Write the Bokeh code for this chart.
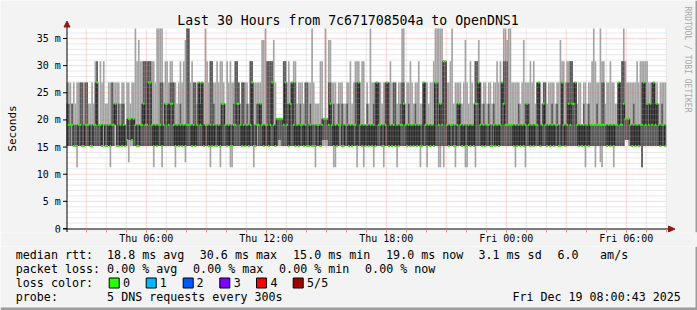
import math
from bokeh.plotting import figure
from bokeh.layouts import column
from bokeh.models import Range1d, FixedTicker, Label
from bokeh.embed import file_html
from bokeh.resources import INLINE

# ---------------- data ----------------
title_text = "Last 30 Hours from 7c671708504a to OpenDNS1"
# ping round-trip levels (ms) used by the codes below
level_ms = {"0": 11.3, "c": 12.2, "1": 15.2, "a": 16.3, "2": 19.1, "b": 20.2,
            "3": 23.0, "4": 26.9, "5": 30.8, "6": 34.7, "7": 38.6}
# one entry per 5-minute step: 5 sorted pings (min, 2nd, median, 4th, max)
step_codes = """
11234 11234 11224 12233 11124 11123 01124 11224 11244 11144
11124 11244 11244 11223 11123 11124 11223 11245 11455 11222
11225 11124 22225 11123 11123 11224 01124 11244 11234 22334
11124 11134 11223 11134 11234 11122 1aab4 cabb4 1abb3 1aab4
11bb4 11227 11125 11126 11225 11235 11355 11255 11254 11455
11455 11225 01125 11224 11127 11227 11247 01147 11224 11335
11335 11234 11345 11345 11244 01124 11223 11124 11235 11124
11225 c1126 11277 11277 11224 11125 11244 11144 11223 11444
11234 11444 11124 11227 11225 11124 01255 11155 11234 11124
11125 11224 01125 11335 11334 11223 11125 11224 01125 01124
11234 11255 11355 11344 11223 11144 11244 11124 11234 11123
11255 11455 01124 11124 12234 11234 11334 11226 11126 11227
11255 11155 11255 11455 11226 11124 11bbb 1abbb 1abbb 11bbb
11255 11455 11234 11135 11334 11444 11245 11145 11223 11124
11234 11224 11123 11244 11144 11124 11234 11127 11124 01123
11223 11223 11125 1a2b5 1abbb 1abb7 1abbb 11246 11346 11224
01134 01224 11123 11234 12224 11134 11123 11223 11234 11124
11225 11123 11224 11245 01145 11445 11224 11125 01225 11122
11234 11123 11227 11124 01234 11144 11444 11244 11224 11123
01124 11244 11444 11144 11225 11124 11244 11144 01223 11124
11234 11247 11347 11223 11124 11234 11125 11224 11123 11234
11124 11225 01123 11123 11444 11244 01124 11223 11124 11224
11125 11447 11447 01227 01337 11227 01555 11555 11224 11124
11225 11227 11123 01124 11234 11334 11234 11123 11224 01126
01124 11223 11125 11224 11123 01355 11355 11446 11244 11123
11234 11124 11223 11234 11124 11123 12234 11124 11225 11124
11225 11444 11357 11257 11256 11227 11227 11224 11124 01224
11124 11234 11123 11224 11126 01234 11334 11234 11125 11224
11125 11223 11244 11444 11124 11223 11344 11244 11123 11224
11124 11234 11124 11223 11234 11124 11126 11445 11225 11124
11245 11345 11255 11355 11344 11444 11223 11124 11224 11122
11234 01124 11223 11134 11224 11225 11227 01225 11234 11224
c1227 01245 11245 11223 11124 11224 11125 11224 01124 11223
11223 11444 11244 11255 11357 aabb5 aabb4 1abb4 11224 11124
11234 11124 11225 11124 11225 00245 11445 11245 11335 11224
11334 11244 11444 11234 11334 11223 11124 11234 11224 11124
""".split()

ping_min = [level_ms[c[0]] for c in step_codes]
ping_lo = [level_ms[c[1]] for c in step_codes]
median_rtt = [level_ms[c[2]] for c in step_codes]
ping_hi = [level_ms[c[3]] for c in step_codes]
ping_max = [level_ms[c[4]] for c in step_codes]

y_tick_values = [0, 5, 10, 15, 20, 25, 30, 35]
y_tick_labels = ["0", "5 m", "10 m", "15 m", "20 m", "25 m", "30 m", "35 m"]
x_tick_hours = [4, 10, 16, 22, 28]          # hours after 02:00
x_tick_labels = ["Thu 06:00", "Thu 12:00", "Thu 18:00", "Fri 00:00", "Fri 06:00"]

legend_median = ["median rtt:", "18.8 ms avg", "30.6 ms max", "15.0 ms min",
                 "19.0 ms now", "3.1 ms sd", "6.0", "am/s"]
legend_loss = ["packet loss:", "0.00 % avg", "0.00 % max", "0.00 % min", "0.00 % now"]
loss_labels = ["0", "1", "2", "3", "4", "5/5"]
loss_colors = ["#26ff00", "#00b8ff", "#0059ff", "#7e00ff", "#ff0000", "#a10000"]
probe_text = "5 DNS requests every 300s"
stamp_text = "Fri Dec 19 08:00:43 2025"

# ---------------- layout ----------------
W = 697
H1, H2 = 246, 64                # graph part, legend part
X0, PXH = 66.0, 20.0            # pixel of graph start, pixels per hour
Y0, YMAX = 228.0, 36.84         # pixel of 0 ms, top of graph (ms)
PXM = 200.0 / YMAX
FB = 232                        # frame bottom of the graph part
SPAN_H = 30.0
OFF_H = 43 / 3600.0             # graph starts at 02:00:43
BG = "#f3f3f3"
MONO = "DejaVu Sans Mono"


def dx(px):
    return (px - X0) / PXH


def dy(py):
    return (Y0 - py) / PXM


p = figure(width=W, height=H1, output_backend="svg", toolbar_location=None,
           x_range=Range1d(dx(0), dx(W)), y_range=Range1d(dy(FB), dy(0)),
           y_axis_location=None,
           min_border_left=0, min_border_right=0,
           min_border_top=0, min_border_bottom=H1 - FB)
p.background_fill_color = BG
p.border_fill_color = BG
p.outline_line_color = None
p.xgrid.visible = False
p.ygrid.visible = False

xa = p.xaxis[0]
hour_marks = [k - OFF_H for k in range(1, 31)]
xa.ticker = FixedTicker(ticks=[h - OFF_H for h in x_tick_hours], minor_ticks=hour_marks)
xa.major_label_overrides = {h - OFF_H: s for h, s in zip(x_tick_hours, x_tick_labels)}
xa.axis_line_color = None
xa.major_tick_in = 3
xa.major_tick_out = 0
xa.minor_tick_in = 3
xa.minor_tick_out = 0
xa.major_tick_line_color = "#e89090"
xa.minor_tick_line_color = "#e89090"
xa.major_label_standoff = 0
xa.major_label_text_font = MONO
xa.major_label_text_font_size = "10px"
xa.major_label_text_color = "black"

# white graph canvas
p.quad(left=[0], right=[SPAN_H], bottom=[0], top=[YMAX], fill_color="white", line_color=None)

# steps
n = len(step_codes)
step_h = 5 / 60.0
left = [max(0.0, i * step_h - OFF_H) for i in range(n)]
right = [min(SPAN_H, (i + 1) * step_h - OFF_H) for i in range(n)]
clipv = lambda v: min(v, YMAX)

p.quad(left=left, right=right, bottom=ping_min, top=[clipv(v) for v in ping_max],
       fill_color="#a4a4a4", line_color=None)
p.quad(left=left, right=right, bottom=ping_lo, top=[clipv(v) for v in ping_hi],
       fill_color="#585858", line_color=None)
p.step(x=left + [right[-1]], y=median_rtt + [median_rtt[-1]], mode="after",
       line_color="#202020", line_width=1)
sw = 1.0 / PXM
p.quad(left=left, right=right, bottom=[m - sw for m in median_rtt],
       top=[m + sw for m in median_rtt], fill_color=loss_colors[0], line_color=None)

# grid (drawn on top as in rrdtool)
minor_y = [v for v in range(1, 37) if v % 5 != 0]
major_y = [v for v in range(5, 36, 5)]
p.segment(x0=[0] * len(minor_y), x1=[SPAN_H] * len(minor_y), y0=minor_y, y1=minor_y,
          line_color="#a8a8a8", line_alpha=0.5, line_dash="1 1", line_width=1)
minor_x = [h for k, h in zip(range(1, 31), hour_marks) if (k + 2) % 3 != 0]
major_x = [h for k, h in zip(range(1, 31), hour_marks) if (k + 2) % 3 == 0]
p.segment(x0=minor_x, x1=minor_x, y0=[0] * len(minor_x), y1=[YMAX] * len(minor_x),
          line_color="#a8a8a8", line_alpha=0.5, line_dash="1 1", line_width=1)
p.segment(x0=[0] * len(major_y), x1=[SPAN_H] * len(major_y), y0=major_y, y1=major_y,
          line_color="#ff7070", line_alpha=0.55, line_dash="1 1", line_width=1)
p.segment(x0=major_x, x1=major_x, y0=[0] * len(major_x), y1=[YMAX] * len(major_x),
          line_color="#ff7070", line_alpha=0.55, line_dash="1 1", line_width=1)

# y axis: tick marks and labels on the value scale
p.segment(x0=[dx(62.5)] * len(y_tick_values), x1=[dx(66.5)] * len(y_tick_values),
          y0=y_tick_values, y1=y_tick_values, line_color="black", line_width=1)
p.text(x=[dx(60.3)] * len(y_tick_values), y=y_tick_values, text=y_tick_labels,
       text_font={"value": MONO}, text_font_size={"value": "10px"},
       text_align="right", text_baseline="middle", text_color="black")
p.add_layout(Label(x=dx(11.5), y=dy(128), text="Seconds", text_font=MONO,
                   text_font_size="11px", text_align="center", text_baseline="middle",
                   text_color="black", angle=math.pi / 2))

# axis lines and arrows
p.segment(x0=[dx(62.5), dx(66.5)], y0=[dy(228.5), dy(231.5)],
          x1=[dx(669), dx(66.5)], y1=[dy(228.5), dy(25)], line_color="black", line_width=1)
p.patches(xs=[[dx(63.5), dx(69.5), dx(66.5)], [dx(668), dx(668), dx(674.5)]],
          ys=[[dy(26.5), dy(26.5), dy(20.5)], [dy(225.5), dy(231.5), dy(228.5)]],
          fill_color="#8e1b1b", line_color="#8e1b1b")

# right edge shade of the rrdtool canvas
p.quad(left=[dx(695)], right=[dx(W)], bottom=[dy(FB)], top=[dy(0)],
       fill_color="#9c9c9c", line_color=None)

p.add_layout(Label(x=dx(347.5), y=dy(19.5), text=title_text, text_font=MONO,
                   text_font_size="13.2px", text_align="center", text_baseline="middle",
                   text_color="black"))
p.add_layout(Label(x=dx(687), y=dy(59), text="RRDTOOL / TOBI OETIKER", text_font=MONO,
                   text_font_size="8px", text_align="center", text_baseline="middle",
                   text_color="#a8a8a8", angle=-math.pi / 2))

# ---------------- legend part (pixel coordinates of the page) ----------------
q = figure(width=W, height=H2, output_backend="svg", toolbar_location=None,
           x_range=Range1d(0, W), y_range=Range1d(H1 + H2, H1),
           x_axis_location=None, y_axis_location=None,
           min_border=0, min_border_left=0, min_border_right=0,
           min_border_top=0, min_border_bottom=0)
q.background_fill_color = BG
q.border_fill_color = BG
q.outline_line_color = None
q.xgrid.visible = False
q.ygrid.visible = False

LS = "11.66px"


def add_text(txt, X, Y, align="left"):
    q.add_layout(Label(x=X, y=Y, text=txt, text_font=MONO, text_font_size=LS,
                       text_align=align, text_baseline="middle", text_color="black"))


row_y = [254.3, 268.3, 282.3, 296.0]
for txt, X in zip(legend_median, [16, 107.3, 200, 293.3, 386.3, 478.7, 557.7, 600.3]):
    add_text(txt, X - 0.7, row_y[0])
for txt, X in zip(legend_loss, [16, 107.3, 193.3, 279.3, 365.3]):
    add_text(txt, X - 0.7, row_y[1])
add_text("loss color:", 16 - 0.7, row_y[2])
sq_x = [108.7, 145.7, 182.7, 219.3, 256.0, 292.7]
lab_x = [123.3, 160.0, 196.7, 234.0, 270.7, 307.3]
q.quad(left=sq_x, right=[s + 10 for s in sq_x], top=[277.5] * 6, bottom=[287.5] * 6,
       fill_color=loss_colors, line_color="black", line_width=1)
for lab, lx in zip(loss_labels, lab_x):
    add_text(lab, lx - 0.7, row_y[2])
add_text("probe:", 16 - 0.7, row_y[3])
add_text(probe_text, 107.3 - 0.7, row_y[3])
add_text(stamp_text, 680.3, row_y[3], align="right")

# bottom / right edge shade
q.quad(left=[0, 695], right=[W, W], top=[307, H1], bottom=[H1 + H2, H1 + H2],
       fill_color="#9c9c9c", line_color=None)

open("out.html", "w").write(file_html(column(p, q, spacing=0), INLINE))
